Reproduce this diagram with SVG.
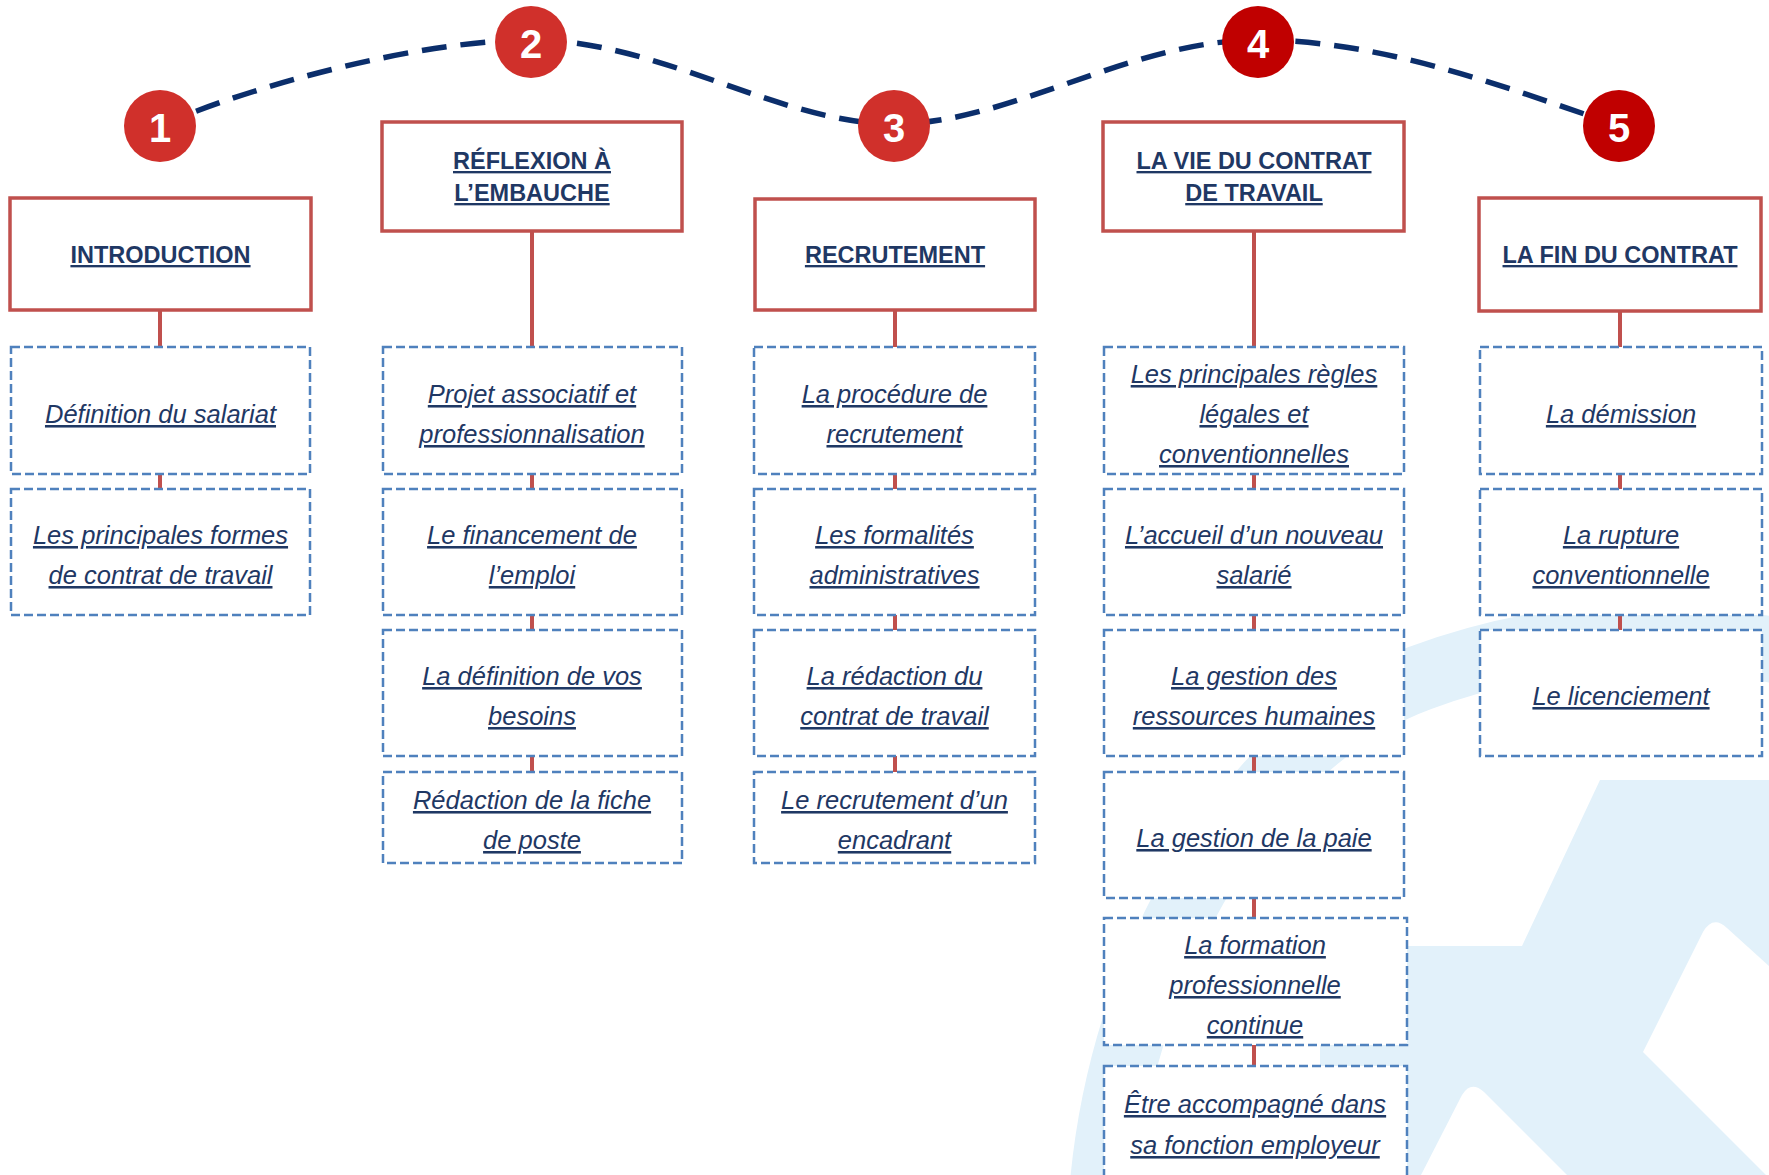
<svg xmlns="http://www.w3.org/2000/svg" width="1769" height="1175" viewBox="0 0 1769 1175">
<style>
.hbox{fill:#fff;stroke:#C0504D;stroke-width:3.5}
.sbox{fill:#fff;stroke:#4F81BD;stroke-width:2.5;stroke-dasharray:9 4}
.hdr{font-family:"Liberation Sans",Arial,sans-serif;font-weight:bold;font-size:23.5px;fill:#1F3864;text-anchor:middle;text-decoration:underline}
.sub{font-family:"Liberation Sans",Arial,sans-serif;font-style:italic;font-size:25.5px;fill:#1F3864;text-anchor:middle;text-decoration:underline}
.num{font-family:"Liberation Sans",Arial,sans-serif;font-weight:bold;font-size:40px;fill:#fff;text-anchor:middle}
.link{stroke:#C0504D;stroke-width:4;fill:none}
.wave{stroke:#0B2E6B;stroke-width:5.5;fill:none;stroke-dasharray:25 14}
.bg{fill:#E2F1FA}
</style>
<rect width="1769" height="1175" fill="#fff"/>
<g id="watermark">
<path d="M1102,1195 C1120,960 1250,740 1420,678 S1700,640 1790,652" fill="none" stroke="#E2F1FA" stroke-width="66"/>
<path class="bg" d="M1600,780 L1769,780 L1769,1175 L1320,1175 L1320,946 L1522,946 Z"/>
<path fill="#fff" d="M1643,1052 L1703,932 Q1713,915 1727,928 L1769,966 L1769,1175 L1766,1175 Z"/>
<path fill="#fff" d="M1421,1175 L1462,1095 Q1471,1080 1484,1092 L1567,1175 Z"/>
</g>
<g id="connectors">
<path class="wave" d="M160,126 C250,86 420,40 531,40 C660,40 780,124 894,124 C1010,124 1130,40 1258,40 C1380,40 1500,85 1619,126"/>
<line class="link" x1="160" y1="310" x2="160" y2="347"/>
<line class="link" x1="160" y1="474" x2="160" y2="489"/>
<line class="link" x1="532" y1="231" x2="532" y2="347"/>
<line class="link" x1="532" y1="474" x2="532" y2="489"/>
<line class="link" x1="532" y1="615" x2="532" y2="630"/>
<line class="link" x1="532" y1="756" x2="532" y2="772"/>
<line class="link" x1="895" y1="310" x2="895" y2="347"/>
<line class="link" x1="895" y1="474" x2="895" y2="489"/>
<line class="link" x1="895" y1="615" x2="895" y2="630"/>
<line class="link" x1="895" y1="756" x2="895" y2="772"/>
<line class="link" x1="1254" y1="231" x2="1254" y2="347"/>
<line class="link" x1="1254" y1="474" x2="1254" y2="489"/>
<line class="link" x1="1254" y1="615" x2="1254" y2="630"/>
<line class="link" x1="1254" y1="756" x2="1254" y2="772"/>
<line class="link" x1="1254" y1="898" x2="1254" y2="918"/>
<line class="link" x1="1254" y1="1045" x2="1254" y2="1066"/>
<line class="link" x1="1620" y1="311" x2="1620" y2="347"/>
<line class="link" x1="1620" y1="474" x2="1620" y2="489"/>
<line class="link" x1="1620" y1="615" x2="1620" y2="630"/>
</g>
<g id="step1"><circle cx="160" cy="126" r="36" fill="#D0302B"/><text class="num" x="160" y="142">1</text></g>
<g id="step2"><circle cx="531" cy="42" r="36" fill="#D0302B"/><text class="num" x="531" y="58">2</text></g>
<g id="step3"><circle cx="894" cy="126" r="36" fill="#D0302B"/><text class="num" x="894" y="142">3</text></g>
<g id="step4"><circle cx="1258" cy="42" r="36" fill="#C00000"/><text class="num" x="1258" y="58">4</text></g>
<g id="step5"><circle cx="1619" cy="126" r="36" fill="#C00000"/><text class="num" x="1619" y="142">5</text></g>

<g id="h-introduction"><rect class="hbox" x="10" y="198" width="301" height="112"/><text class="hdr" x="160.5" y="263">INTRODUCTION</text></g>
<g id="h-reflexion"><rect class="hbox" x="382" y="122" width="300" height="109"/><text class="hdr" x="532" y="169">RÉFLEXION À</text><text class="hdr" x="532" y="201">L’EMBAUCHE</text></g>
<g id="h-recrutement"><rect class="hbox" x="755" y="199" width="280" height="111"/><text class="hdr" x="895" y="263">RECRUTEMENT</text></g>
<g id="h-vie"><rect class="hbox" x="1103" y="122" width="301" height="109"/><text class="hdr" x="1254" y="169">LA VIE DU CONTRAT</text><text class="hdr" x="1254" y="201">DE TRAVAIL</text></g>
<g id="h-fin"><rect class="hbox" x="1479" y="198" width="282" height="113"/><text class="hdr" x="1620" y="263">LA FIN DU CONTRAT</text></g>

<g id="c1-1"><rect class="sbox" x="11" y="347" width="299" height="127"/><text class="sub" x="160.5" y="423">Définition du salariat</text></g>
<g id="c1-2"><rect class="sbox" x="11" y="489" width="299" height="126"/><text class="sub" x="160.5" y="544">Les principales formes</text><text class="sub" x="160.5" y="584">de contrat de travail</text></g>

<g id="c2-1"><rect class="sbox" x="383" y="347" width="299" height="127"/><text class="sub" x="532" y="403">Projet associatif et</text><text class="sub" x="532" y="443">professionnalisation</text></g>
<g id="c2-2"><rect class="sbox" x="383" y="489" width="299" height="126"/><text class="sub" x="532" y="544">Le financement de</text><text class="sub" x="532" y="584">l’emploi</text></g>
<g id="c2-3"><rect class="sbox" x="383" y="630" width="299" height="126"/><text class="sub" x="532" y="685">La définition de vos</text><text class="sub" x="532" y="725">besoins</text></g>
<g id="c2-4"><rect class="sbox" x="383" y="772" width="299" height="91"/><text class="sub" x="532" y="809">Rédaction de la fiche</text><text class="sub" x="532" y="849">de poste</text></g>

<g id="c3-1"><rect class="sbox" x="754" y="347" width="281" height="127"/><text class="sub" x="894.5" y="403">La procédure de</text><text class="sub" x="894.5" y="443">recrutement</text></g>
<g id="c3-2"><rect class="sbox" x="754" y="489" width="281" height="126"/><text class="sub" x="894.5" y="544">Les formalités</text><text class="sub" x="894.5" y="584">administratives</text></g>
<g id="c3-3"><rect class="sbox" x="754" y="630" width="281" height="126"/><text class="sub" x="894.5" y="685">La rédaction du</text><text class="sub" x="894.5" y="725">contrat de travail</text></g>
<g id="c3-4"><rect class="sbox" x="754" y="772" width="281" height="91"/><text class="sub" x="894.5" y="809">Le recrutement d’un</text><text class="sub" x="894.5" y="849">encadrant</text></g>

<g id="c4-1"><rect class="sbox" x="1104" y="347" width="300" height="127"/><text class="sub" x="1254" y="383">Les principales règles</text><text class="sub" x="1254" y="423">légales et</text><text class="sub" x="1254" y="463">conventionnelles</text></g>
<g id="c4-2"><rect class="sbox" x="1104" y="489" width="300" height="126"/><text class="sub" x="1254" y="544">L’accueil d’un nouveau</text><text class="sub" x="1254" y="584">salarié</text></g>
<g id="c4-3"><rect class="sbox" x="1104" y="630" width="300" height="126"/><text class="sub" x="1254" y="685">La gestion des</text><text class="sub" x="1254" y="725">ressources humaines</text></g>
<g id="c4-4"><rect class="sbox" x="1104" y="772" width="300" height="126"/><text class="sub" x="1254" y="847">La gestion de la paie</text></g>
<g id="c4-5"><rect class="sbox" x="1104" y="918" width="303" height="127"/><text class="sub" x="1255" y="954">La formation</text><text class="sub" x="1255" y="994">professionnelle</text><text class="sub" x="1255" y="1034">continue</text></g>
<g id="c4-6"><rect class="sbox" x="1104" y="1066" width="303" height="130"/><text class="sub" x="1255" y="1113">Être accompagné dans</text><text class="sub" x="1255" y="1154">sa fonction employeur</text></g>

<g id="c5-1"><rect class="sbox" x="1480" y="347" width="282" height="127"/><text class="sub" x="1621" y="423">La démission</text></g>
<g id="c5-2"><rect class="sbox" x="1480" y="489" width="282" height="126"/><text class="sub" x="1621" y="544">La rupture</text><text class="sub" x="1621" y="584">conventionnelle</text></g>
<g id="c5-3"><rect class="sbox" x="1480" y="630" width="282" height="126"/><text class="sub" x="1621" y="705">Le licenciement</text></g>
</svg>
